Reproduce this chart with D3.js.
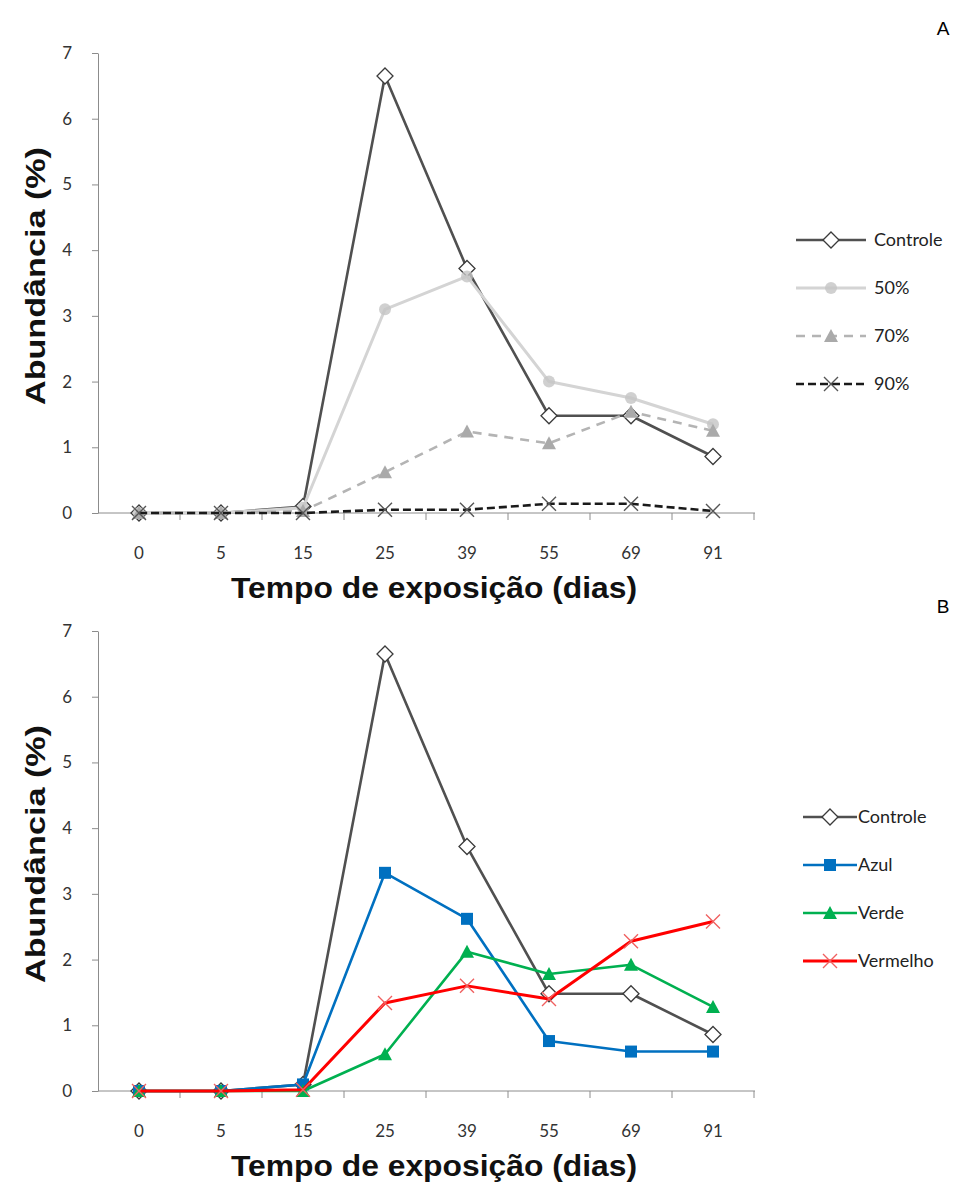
<!DOCTYPE html>
<html lang="pt">
<head>
<meta charset="utf-8">
<title>Abundância</title>
<style>
	body { margin: 0; background: #fff; }
	svg { display: block; }
	.tick text { font-family: Lato, "Open Sans", sans-serif; font-size: 17px; fill: #333; }
	.axis path, .axis line { stroke: #8c8c8c; }
	.title { font-family: "Liberation Sans", Arial, sans-serif; font-weight: bold; fill: #111; }
	.legend text { font-family: Lato, "Open Sans", sans-serif; font-size: 18px; fill: #222; }
</style>
</head>
<body>
<svg></svg>
<script src="https://cdnjs.cloudflare.com/ajax/libs/d3/7.8.5/d3.min.js"></script>
<script>
// categorias (dias) e series
var dias = ["0", "5", "15", "25", "39", "55", "69", "91"];
var yTicks = [0, 1, 2, 3, 4, 5, 6, 7];

var controle = [0, 0, 0.1, 6.65, 3.72, 1.48, 1.48, 0.86];
var p50 = [0, 0, 0.08, 3.1, 3.6, 2.0, 1.75, 1.35];
var p70 = [0, 0, 0.03, 0.62, 1.24, 1.06, 1.54, 1.25];
var p90 = [0, 0, 0, 0.05, 0.05, 0.14, 0.14, 0.03];

var azul = [0, 0, 0.1, 3.32, 2.62, 0.76, 0.6, 0.6];
var verde = [0, 0, 0, 0.56, 2.12, 1.78, 1.92, 1.28];
var vermelho = [0, 0, 0.02, 1.34, 1.6, 1.4, 2.28, 2.58];

var W = 973, H = 1183;
var svg = d3.select("svg").attr("width", W).attr("height", H);

var x = d3.scaleBand().domain(dias).range([98, 754]).padding(0);
var y = d3.scaleLinear().domain([0, 7]).range([460, 0]);

// desenho dos marcadores
function drawMarker(g, type, cx, cy, s) {
	if (type === "diamond") {
		g.append("path")
			.attr("d", "M" + cx + "," + (cy - 8) + "L" + (cx + 8) + "," + cy + "L" + cx + "," + (cy + 8) + "L" + (cx - 8) + "," + cy + "Z")
			.attr("fill", "#fff").attr("stroke", "#3a3a3a").attr("stroke-width", 1.3);
	} else if (type === "square") {
		g.append("rect").attr("x", cx - 6).attr("y", cy - 6).attr("width", 12).attr("height", 12)
			.attr("fill", s.color);
	} else if (type === "triangle") {
		g.append("path")
			.attr("d", "M" + cx + "," + (cy - 7) + "L" + (cx + 7) + "," + (cy + 6) + "L" + (cx - 7) + "," + (cy + 6) + "Z")
			.attr("fill", s.mcolor || s.color);
	} else if (type === "cross") {
		g.append("path")
			.attr("d", "M" + (cx - 7) + "," + (cy - 7) + "L" + (cx + 7) + "," + (cy + 7) + "M" + (cx + 7) + "," + (cy - 7) + "L" + (cx - 7) + "," + (cy + 7))
			.attr("stroke", s.mcolor || s.color).attr("stroke-width", 1.4).attr("fill", "none");
	} else if (type === "blob") {
		g.append("circle").attr("cx", cx).attr("cy", cy).attr("r", 6)
			.attr("fill", s.mcolor || s.color).attr("opacity", 0.8);
	}
}

function drawPanel(top, series, letter, legendX0, legendX1, legendTextX, legendY) {
	var g = svg.append("g").attr("transform", "translate(0," + top + ")");

	// eixo y
	var ay = g.append("g").attr("class", "axis")
		.attr("transform", "translate(98,0)")
		.call(d3.axisLeft(y).tickValues(yTicks).tickFormat(d3.format("d"))
			.tickSize(6).tickPadding(14).tickSizeOuter(0));
	ay.selectAll(".tick text").attr("dx", "-6px");

	// eixo x: rotulos no centro das bandas, tracos nas fronteiras
	var ax = g.append("g").attr("class", "axis")
		.attr("transform", "translate(0," + y(0) + ")")
		.call(d3.axisBottom(x).tickSize(0).tickPadding(34).tickSizeOuter(0));
	ax.select(".domain").attr("d", "M98,0H755");
	var bounds = d3.range(1, dias.length + 1).map(function(i) { return 98 + i * x.step(); });
	ax.selectAll(".btick").data(bounds).enter().append("line")
		.attr("class", "btick")
		.attr("x1", function(d) { return d; }).attr("x2", function(d) { return d; })
		.attr("y1", 0).attr("y2", 7);

	var line = d3.line()
		.x(function(d, i) { return x(dias[i]) + x.bandwidth() / 2; })
		.y(function(d) { return y(d); });

	series.forEach(function(s) {
		g.append("path").datum(s.values)
			.attr("d", line)
			.attr("fill", "none")
			.attr("stroke", s.color)
			.attr("stroke-width", s.width)
			.attr("stroke-dasharray", s.dash || null)
			.attr("stroke-linejoin", "round");
		var mg = g.append("g");
		s.values.forEach(function(v, i) {
			drawMarker(mg, s.marker, x(dias[i]) + x.bandwidth() / 2, y(v), s);
		});
	});

	// titulos
	g.append("text").attr("class", "title")
		.attr("transform", "translate(45,223) rotate(-90)")
		.attr("text-anchor", "middle")
		.attr("textLength", 258).attr("lengthAdjust", "spacingAndGlyphs")
		.style("font-size", "28px")
		.text("Abundância (%)");
	g.append("text").attr("class", "title")
		.attr("x", 434).attr("y", y(0) + 85)
		.attr("text-anchor", "middle")
		.attr("textLength", 406).attr("lengthAdjust", "spacingAndGlyphs")
		.style("font-size", "29px")
		.text("Tempo de exposição (dias)");

	svg.append("text")
		.attr("x", 943).attr("y", top - 18)
		.attr("text-anchor", "middle")
		.style("font-family", "'Liberation Sans', Arial, sans-serif")
		.style("font-size", "19px")
		.text(letter);

	// legenda
	var lg = svg.append("g").attr("class", "legend");
	series.forEach(function(s, i) {
		var ly = legendY + i * 48;
		lg.append("line")
			.attr("x1", legendX0).attr("x2", legendX1)
			.attr("y1", ly).attr("y2", ly)
			.attr("stroke", s.color).attr("stroke-width", s.width)
			.attr("stroke-dasharray", s.dash || null);
		drawMarker(lg, s.marker, (legendX0 + legendX1) / 2, ly, s);
		lg.append("text")
			.attr("x", legendTextX).attr("y", ly)
			.attr("dy", "0.35em")
			.text(s.name);
	});
}

drawPanel(53, [
	{ name: "Controle", values: controle, color: "#505050", width: 2.6, marker: "diamond" },
	{ name: "50%", values: p50, color: "#d4d4d4", width: 3, marker: "blob", mcolor: "#c4c4c4" },
	{ name: "70%", values: p70, color: "#b4b4b4", width: 2.6, dash: "9,7", marker: "triangle", mcolor: "#aaa" },
	{ name: "90%", values: p90, color: "#1a1a1a", width: 2.6, dash: "8,4", marker: "cross", mcolor: "#555" }
], "A", 796, 866, 874, 240);

drawPanel(631, [
	{ name: "Controle", values: controle, color: "#505050", width: 2.6, marker: "diamond" },
	{ name: "Azul", values: azul, color: "#0070c0", width: 2.6, marker: "square" },
	{ name: "Verde", values: verde, color: "#00b050", width: 2.6, marker: "triangle" },
	{ name: "Vermelho", values: vermelho, color: "#ff0000", width: 3, marker: "cross", mcolor: "#f06060" }
], "B", 803, 857, 858, 817);
</script>
</body>
</html>
